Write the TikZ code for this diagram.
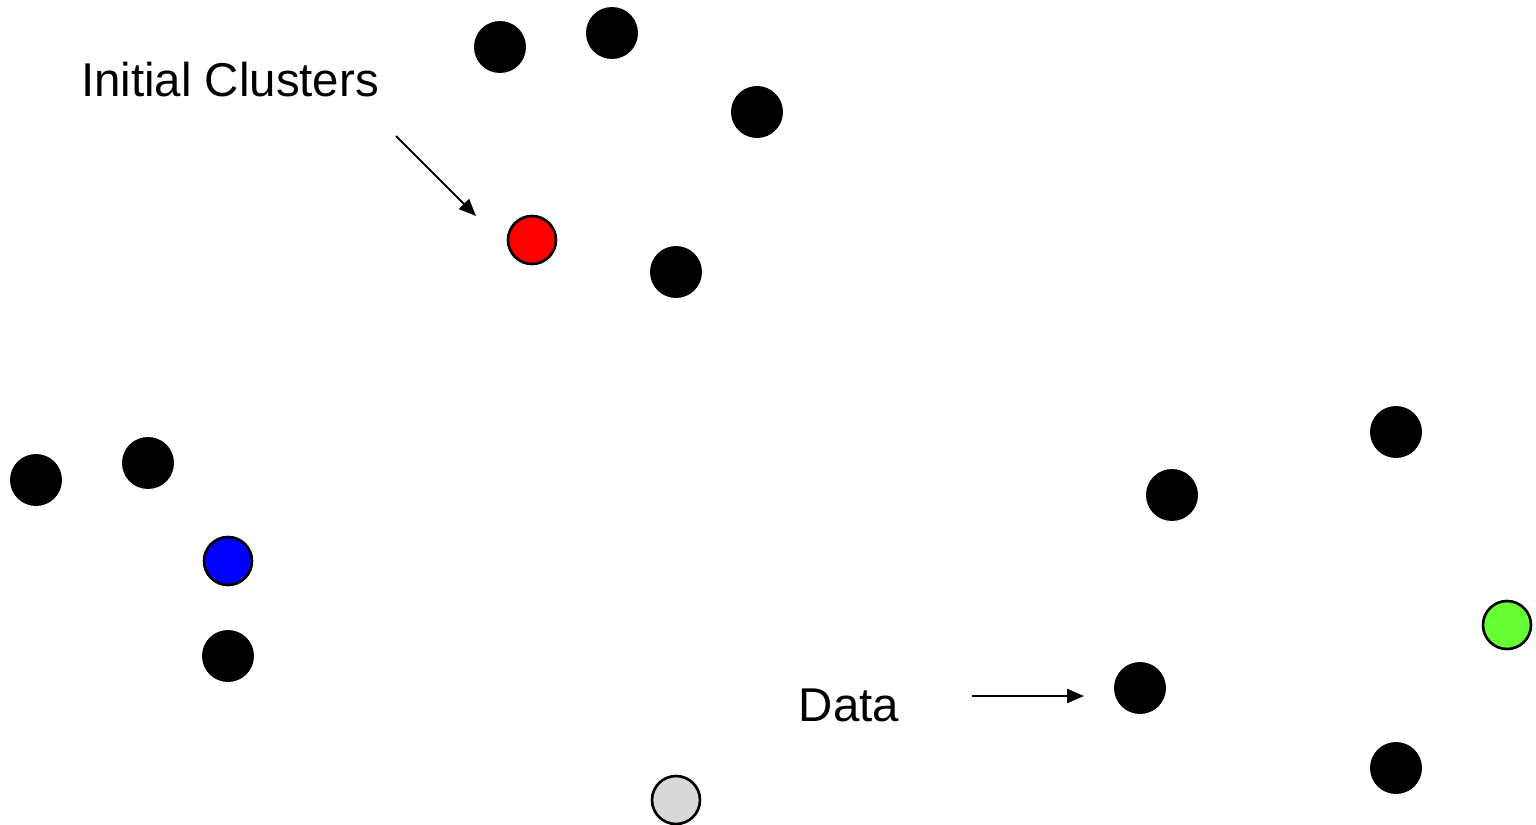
\documentclass[tikz,border=0pt]{standalone}
\usepackage{fontspec}
\setmainfont{Liberation Sans}
\usetikzlibrary{arrows.meta}
\definecolor{cred}{RGB}{255,0,0}
\definecolor{cblue}{RGB}{0,0,255}
\definecolor{cgreen}{RGB}{102,255,51}
\definecolor{cgray}{RGB}{217,217,217}
\tikzset{
  point/.style={circle,fill=black,inner sep=0pt,minimum size=10.4mm},
  seed/.style={circle,draw=black,line width=1.5pt,inner sep=0pt,minimum size=9.6mm},
  caption/.style={font=\fontsize{27}{30}\selectfont,inner sep=0pt},
  pointer/.style={-{Triangle[length=3.4mm,width=2.8mm]},line width=1.2pt},
}
\begin{document}
\begin{tikzpicture}[x=0.02cm,y=-0.02cm]
\useasboundingbox (0,0) rectangle (1536,825);

% Labels
\node[caption] (lclust) at (230,80) {Initial Clusters};
\node[caption] (ldata) at (849,705) {Data};

% --- data points ---
\node[point] (p1) at (500,47) {};
\node[point] (p2) at (612,33) {};
\node[point] (p3) at (757,112) {};
\node[point] (p4) at (676,272) {};
\node[point] (p5) at (36,480) {};
\node[point] (p6) at (148,463) {};
\node[point] (p7) at (228,656) {};
\node[point] (p8) at (1172,495) {};
\node[point] (p9) at (1396,432) {};
\node[point] (p10) at (1140,688) {};
\node[point] (p11) at (1396,768) {};

% --- initial cluster centres ---
\node[seed,fill=cred] (k1) at (532,240) {};
\node[seed,fill=cblue] (k2) at (228,561) {};
\node[seed,fill=cgreen] (k3) at (1507,625) {};
\node[seed,fill=cgray] (k4) at (676,800) {};

% arrows
\coordinate (a1) at (396,136);
\coordinate (a2) at (476,216);
\coordinate (b1) at (972,696);
\coordinate (b2) at (1084,696);
\draw[pointer] (a1) -- (a2);
\draw[pointer] (b1) -- (b2);
\end{tikzpicture}
\end{document}
